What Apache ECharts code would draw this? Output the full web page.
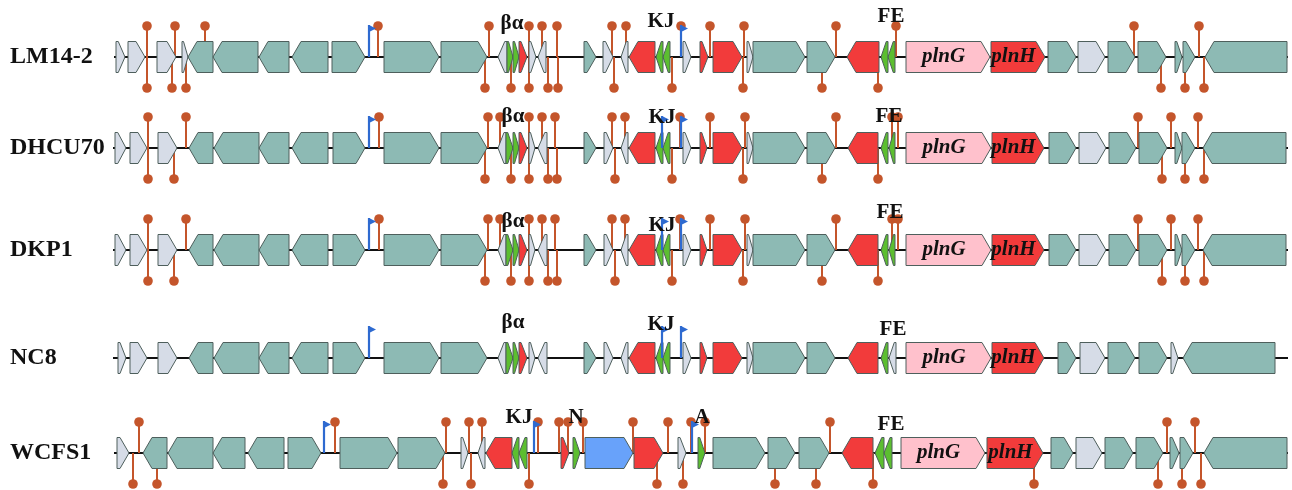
<!DOCTYPE html>
<html>
<head>
<meta charset="utf-8">
<script src="https://cdn.jsdelivr.net/npm/echarts@6/dist/echarts.min.js"></script>
<style>
  html, body { margin: 0; padding: 0; background: #fff; }
  #main { width: 1292px; height: 490px; }
</style>
</head>
<body>
<div id="main"></div>
<script>
// strain names, one track per strain
const rowNames = ['LM14-2', 'DHCU70', 'DKP1', 'NC8', 'WCFS1'];
// track centre on the y scale (0..490)
const rowCenters = [57, 148, 250, 358, 453];
// backbone start / end of each track
const rowSpans = [[114, 1288], [113, 1288], [113, 1288], [113, 1288], [114, 1288]];

// genes: [start, end, strand, kind, name]
// kind: g = grey, t = teal, G = green, r = red, p = pink, b = blue
const genesLM14 = [
  [116, 125, 1, 'g'], [128, 145, 1, 'g'], [157, 176, 1, 'g'], [182, 188, 1, 'g'],
  [188, 213, -1, 't'], [213, 258, -1, 't'], [259, 289, -1, 't'], [292, 328, -1, 't'], [332, 365, 1, 't'],
  [384, 439, 1, 't'], [441, 487, 1, 't'],
  [498, 507, -1, 'g'], [507, 513, 1, 'G'], [513, 519, 1, 'G'], [519, 527, 1, 'r'], [529, 536, 1, 'g'], [538, 546, -1, 'g'],
  [584, 596, 1, 't'], [603, 613, 1, 'g'], [621, 628, -1, 'g'], [629, 655, -1, 'r'], [656, 663, -1, 'G'], [663, 670, -1, 'G'],
  [683, 691, 1, 'g'], [700, 708, 1, 'r'], [713, 742, 1, 'r'], [747, 753, 1, 'g'], [753, 805, 1, 't'], [807, 835, 1, 't'],
  [847, 879, -1, 'r'], [881, 888, -1, 'G'], [888, 895, -1, 'G'],
  [906, 990, 1, 'p', 'plnG'], [991, 1045, 1, 'r', 'plnH'],
  [1048, 1076, 1, 't'], [1078, 1105, 1, 'g'], [1108, 1135, 1, 't'], [1138, 1166, 1, 't'],
  [1175, 1182, 1, 't'], [1183, 1195, 1, 't'], [1205, 1287, -1, 't']
];
const genesDHCU = [
  [115, 126, 1, 'g'], [130, 147, 1, 'g'], [158, 177, 1, 'g'],
  [189, 213, -1, 't'], [214, 259, -1, 't'], [259, 289, -1, 't'], [292, 328, -1, 't'], [333, 365, 1, 't'],
  [384, 439, 1, 't'], [441, 487, 1, 't'],
  [498, 506, -1, 'g'], [506, 513, 1, 'G'], [513, 519, 1, 'G'], [519, 527, 1, 'r'], [529, 535, 1, 'g'], [538, 547, -1, 'g'],
  [584, 596, 1, 't'], [604, 613, 1, 'g'], [621, 628, -1, 'g'], [629, 655, -1, 'r'], [656, 663, -1, 'G'], [663, 670, -1, 'G'],
  [683, 691, 1, 'g'], [700, 707, 1, 'r'], [713, 742, 1, 'r'], [747, 753, 1, 'g'], [753, 805, 1, 't'], [807, 835, 1, 't'],
  [848, 878, -1, 'r'], [881, 888, -1, 'G'], [889, 895, -1, 'G'],
  [906, 991, 1, 'p', 'plnG'], [992, 1044, 1, 'r', 'plnH'],
  [1049, 1076, 1, 't'], [1079, 1106, 1, 'g'], [1109, 1136, 1, 't'], [1139, 1167, 1, 't'],
  [1175, 1182, 1, 't'], [1182, 1195, 1, 't'], [1203, 1286, -1, 't']
];
const genesDKP1 = genesDHCU.slice();
const genesNC8 = [
  [118, 126, 1, 'g'], [130, 147, 1, 'g'], [158, 177, 1, 'g'],
  [189, 213, -1, 't'], [214, 259, -1, 't'], [259, 289, -1, 't'], [292, 328, -1, 't'], [333, 365, 1, 't'],
  [384, 439, 1, 't'], [441, 487, 1, 't'],
  [498, 506, -1, 'g'], [506, 513, 1, 'G'], [513, 519, 1, 'G'], [519, 527, 1, 'r'], [529, 535, 1, 'g'], [538, 547, -1, 'g'],
  [584, 596, 1, 't'], [604, 613, 1, 'g'], [621, 628, -1, 'g'], [629, 655, -1, 'r'], [656, 663, -1, 'G'], [663, 670, -1, 'G'],
  [683, 691, 1, 'g'], [700, 707, 1, 'r'], [713, 742, 1, 'r'], [747, 753, 1, 'g'], [753, 805, 1, 't'], [807, 835, 1, 't'],
  [848, 878, -1, 'r'], [881, 888, -1, 'G'], [889, 896, -1, 'g'],
  [906, 991, 1, 'p', 'plnG'], [992, 1044, 1, 'r', 'plnH'],
  [1058, 1076, 1, 't'], [1080, 1105, 1, 'g'], [1108, 1135, 1, 't'], [1139, 1167, 1, 't'],
  [1171, 1178, 1, 'g'], [1183, 1275, -1, 't']
];
const genesWCFS1 = [
  [117, 129, 1, 'g'], [143, 167, -1, 't'], [168, 213, -1, 't'], [213, 245, -1, 't'], [248, 284, -1, 't'], [288, 321, 1, 't'],
  [340, 397, 1, 't'], [398, 445, 1, 't'],
  [461, 468, 1, 'g'], [478, 485, -1, 'g'], [486, 512, -1, 'r'], [512, 519, -1, 'G'], [519, 527, -1, 'G'],
  [561, 569, 1, 'r'], [573, 580, 1, 'G'], [585, 633, 1, 'b'], [634, 663, 1, 'r'], [678, 686, 1, 'g'], [698, 705, 1, 'G'],
  [713, 765, 1, 't'], [768, 795, 1, 't'], [799, 829, 1, 't'],
  [842, 873, -1, 'r'], [875, 884, -1, 'G'], [884, 892, -1, 'G'],
  [901, 985, 1, 'p', 'plnG'], [987, 1043, 1, 'r', 'plnH'],
  [1051, 1073, 1, 't'], [1076, 1102, 1, 'g'], [1105, 1133, 1, 't'], [1136, 1163, 1, 't'],
  [1170, 1179, 1, 't'], [1180, 1193, 1, 't'], [1204, 1287, -1, 't']
];
const rowGenes = [genesLM14, genesDHCU, genesDKP1, genesNC8, genesWCFS1];

// terminators (lollipops), above and below the backbone
const termUp = [
  [147, 175, 205, 378, 489, 529, 542, 557, 612, 626, 681, 710, 744, 836, 896, 1134, 1199],
  [148, 186, 379, 488, 500, 529, 542, 555, 612, 625, 680, 710, 745, 836, 892, 898, 1138, 1171, 1198],
  [148, 186, 379, 488, 500, 529, 542, 555, 612, 625, 680, 710, 745, 836, 892, 898, 1138, 1171, 1198],
  [],
  [139, 335, 446, 469, 482, 538, 559, 568, 583, 633, 668, 691, 705, 830, 1167, 1195]
];
const termDown = [
  [147, 172, 186, 485, 511, 529, 548, 558, 614, 672, 743, 822, 878, 1161, 1185, 1204],
  [148, 174, 485, 511, 529, 548, 557, 615, 672, 743, 822, 878, 1162, 1185, 1204],
  [148, 174, 485, 511, 529, 548, 557, 615, 672, 743, 822, 878, 1162, 1185, 1204],
  [],
  [133, 157, 443, 471, 529, 657, 683, 775, 816, 873, 1034, 1158, 1182, 1201]
];

// promoters (blue flags)
const promoters = [
  [369, 681],
  [369, 662, 681],
  [369, 662, 681],
  [369, 662, 681],
  [324, 534, 692]
];

// bacteriocin gene letters: [text, x, offset above backbone]
const geneTags = [
  [['βα', 512, 33], ['KJ', 661, 35], ['FE', 891, 40]],
  [['βα', 513, 31], ['KJ', 662, 30], ['FE', 889, 31]],
  [['βα', 513, 28], ['KJ', 662, 24], ['FE', 890, 37]],
  [['βα', 513, 35], ['KJ', 661, 33], ['FE', 893, 28]],
  [['KJ', 519, 35], ['N', 576, 35], ['A', 702, 35], ['FE', 891, 28]]
];

var colors = {
  g: '#D6DCE7',
  t: '#8DBAB4',
  G: '#5CBE30',
  r: '#F23B3B',
  p: '#FFC1CC',
  b: '#68A2FA'
};
var termColor = '#C4552B';
var flagColor = '#2E6AD0';
var halfH = 15.5;

// flatten everything for the series
var geneList = [];
var lineList = [];
var termList = [];
var flagList = [];
var tagList = [];
var nameList = [];
for (let r = 0; r < rowNames.length; r++) {
  lineList.push([rowSpans[r][0], rowSpans[r][1], r]);
  rowGenes[r].forEach(g => geneList.push([g[0], g[1], g[2], r, g[3], g[4] || '']));
  termUp[r].forEach(x => termList.push([x, r, 1]));
  termDown[r].forEach(x => termList.push([x, r, -1]));
  promoters[r].forEach(x => flagList.push([x, r]));
  geneTags[r].forEach(t => tagList.push([t[1], r, t[2], t[0]]));
  nameList.push([10, r, rowNames[r]]);
}

var chart = echarts.init(document.getElementById('main'));

var option = {
  backgroundColor: '#fff',
  animation: false,
  grid: { left: 0, right: 0, top: 0, bottom: 0 },
  xAxis: { type: 'value', min: 0, max: 1292, show: false },
  yAxis: { type: 'value', min: 0, max: 490, inverse: true, show: false },
  series: [
    {
      // backbone line
      type: 'custom',
      z: 1,
      clip: false,
      data: lineList,
      renderItem: function (params, api) {
        var d = lineList[params.dataIndex];
        var y = rowCenters[d[2]];
        var p1 = api.coord([d[0], y]);
        var p2 = api.coord([d[1], y]);
        return {
          type: 'line',
          shape: { x1: p1[0], y1: p1[1], x2: p2[0], y2: p2[1] },
          style: { stroke: '#111', lineWidth: 2 }
        };
      }
    },
    {
      // terminators
      type: 'custom',
      z: 2,
      clip: false,
      data: termList,
      renderItem: function (params, api) {
        var d = termList[params.dataIndex];
        var y = rowCenters[d[1]];
        var base = api.coord([d[0], y]);
        var tip = api.coord([d[0], y - d[2] * 31]);
        return {
          type: 'group',
          children: [
            {
              type: 'line',
              shape: { x1: base[0], y1: base[1], x2: tip[0], y2: tip[1] },
              style: { stroke: termColor, lineWidth: 2 }
            },
            {
              type: 'circle',
              shape: { cx: tip[0], cy: tip[1], r: 4.8 },
              style: { fill: termColor }
            }
          ]
        };
      }
    },
    {
      // genes
      type: 'custom',
      z: 3,
      clip: false,
      data: geneList,
      renderItem: function (params, api) {
        var d = geneList[params.dataIndex];
        var y = rowCenters[d[3]];
        var a = api.coord([d[0], y - halfH]);
        var b = api.coord([d[1], y + halfH]);
        var x1 = a[0], x2 = b[0], top = a[1], bot = b[1], mid = (top + bot) / 2;
        var w = x2 - x1;
        var head = Math.min(9, w * 0.75);
        var pts;
        if (d[2] > 0) {
          pts = [[x1, top], [x2 - head, top], [x2, mid], [x2 - head, bot], [x1, bot]];
        } else {
          pts = [[x2, top], [x1 + head, top], [x1, mid], [x1 + head, bot], [x2, bot]];
        }
        var children = [{
          type: 'polygon',
          shape: { points: pts },
          style: { fill: colors[d[4]], stroke: '#4E5F5C', lineWidth: 1 }
        }];
        if (d[5]) {
          children.push({
            type: 'text',
            style: {
              text: d[5],
              x: (x1 + x2 - head) / 2,
              y: mid,
              align: 'center',
              verticalAlign: 'middle',
              font: 'italic bold 21px "Liberation Serif", "DejaVu Serif", serif',
              fill: '#111'
            }
          });
        }
        return { type: 'group', children: children };
      }
    },
    {
      // promoters
      type: 'custom',
      z: 4,
      clip: false,
      data: flagList,
      renderItem: function (params, api) {
        var d = flagList[params.dataIndex];
        var y = rowCenters[d[1]];
        var base = api.coord([d[0], y]);
        var tip = api.coord([d[0], y - 32]);
        return {
          type: 'group',
          children: [
            {
              type: 'line',
              shape: { x1: base[0], y1: base[1], x2: tip[0], y2: tip[1] },
              style: { stroke: flagColor, lineWidth: 2.2 }
            },
            {
              type: 'polygon',
              shape: { points: [[tip[0], tip[1]], [tip[0] + 7, tip[1] + 3.5], [tip[0], tip[1] + 7]] },
              style: { fill: flagColor }
            }
          ]
        };
      }
    },
    {
      // gene letters above the tracks
      type: 'custom',
      z: 5,
      clip: false,
      data: tagList,
      renderItem: function (params, api) {
        var d = tagList[params.dataIndex];
        var p = api.coord([d[0], rowCenters[d[1]] - d[2]]);
        return {
          type: 'text',
          style: {
            text: d[3],
            x: p[0],
            y: p[1],
            align: 'center',
            verticalAlign: 'middle',
            font: 'bold 21px "Liberation Serif", "DejaVu Serif", serif',
            fill: '#111'
          }
        };
      }
    },
    {
      // strain names
      type: 'custom',
      z: 5,
      clip: false,
      data: nameList,
      renderItem: function (params, api) {
        var d = nameList[params.dataIndex];
        var p = api.coord([d[0], rowCenters[d[1]]]);
        return {
          type: 'text',
          style: {
            text: d[2],
            x: p[0],
            y: p[1],
            align: 'left',
            verticalAlign: 'middle',
            font: 'bold 24px "Liberation Serif", "DejaVu Serif", serif',
            fill: '#111'
          }
        };
      }
    }
  ]
};

chart.setOption(option);
</script>
</body>
</html>
